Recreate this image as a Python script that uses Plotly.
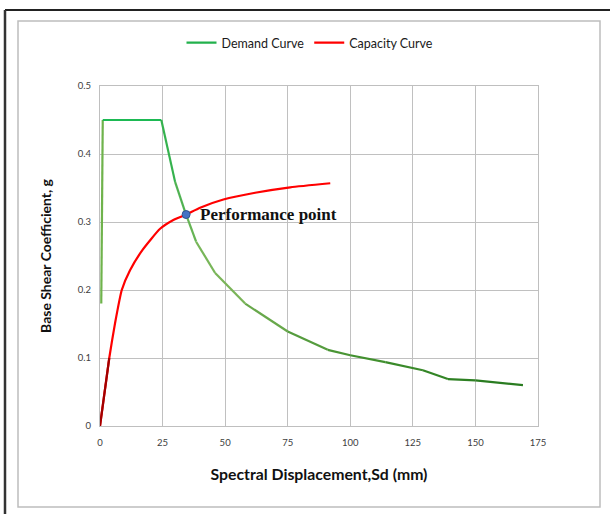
import plotly.graph_objects as go

# Demand curve (Spectral displacement mm, base shear coefficient g)
demand_sd = [0.5, 1.1, 24.5, 30, 34, 38.4, 46, 58, 75, 91, 100, 114, 129, 139, 150, 169]
demand_sa = [0.18, 0.45, 0.45, 0.359, 0.315, 0.271, 0.225, 0.18, 0.139, 0.112, 0.104, 0.094, 0.082, 0.069, 0.067, 0.060]

# Capacity curve
capacity_sd = [0, 3.7, 6, 8.7, 12, 17, 24, 29.3, 34.4, 40, 49.3, 62, 76, 92]
capacity_sa = [0, 0.10, 0.151, 0.20, 0.229, 0.259, 0.290, 0.303, 0.311, 0.321, 0.333, 0.343, 0.351, 0.357]

# Performance point
perf_sd = [34.4]
perf_sa = [0.311]
perf_label = "Performance point"

x_ticks = [0, 25, 50, 75, 100, 125, 150, 175]
y_ticks = [0, 0.1, 0.2, 0.3, 0.4, 0.5]
y_tick_text = ["0", "0.1", "0.2", "0.3", "0.4", "0.5"]

# segment colours (style only)
demand_colors = ["#6FB34C", "#1DB954", "#35B24E", "#50B252", "#66B455", "#78B659",
                 "#7AB458", "#68A84B", "#559C3E", "#4A9535", "#42902F", "#3A8A2A",
                 "#338526", "#2E8023", "#2A7C21"]

fig = go.Figure()

for i in range(len(demand_sd) - 1):
    fig.add_trace(go.Scatter(
        x=demand_sd[i:i + 2], y=demand_sa[i:i + 2], mode="lines",
        line=dict(color=demand_colors[i], width=2.2),
        name="Demand Curve", legendgroup="d",
        showlegend=False, hoverinfo="skip"))

fig.add_trace(go.Scatter(
    x=capacity_sd, y=capacity_sa, mode="lines",
    line=dict(color="#FF0000", width=2.2, shape="spline", smoothing=0.5),
    name="Capacity Curve", legendgroup="c", showlegend=False))
# darker foot of the capacity curve
fig.add_trace(go.Scatter(
    x=capacity_sd[:2], y=capacity_sa[:2], mode="lines",
    line=dict(color="#A00000", width=2.2),
    name="Capacity Curve", legendgroup="c", showlegend=False, hoverinfo="skip"))

# legend entries
fig.add_trace(go.Scatter(x=[None], y=[None], mode="lines",
                         line=dict(color="#22B14C", width=2.2), name="Demand Curve",
                         legendgroup="d"))
fig.add_trace(go.Scatter(x=[None], y=[None], mode="lines",
                         line=dict(color="#FF0000", width=2.2), name="Capacity Curve",
                         legendgroup="c"))

fig.add_trace(go.Scatter(x=perf_sd, y=perf_sa, mode="markers",
                         marker=dict(color="#4472C4", size=8,
                                     line=dict(color="#2F528F", width=1)),
                         showlegend=False))

fig.add_annotation(x=perf_sd[0], y=perf_sa[0], text="<b>" + perf_label + "</b>",
                   showarrow=False, xanchor="left", yanchor="middle", xshift=12, yshift=0,
                   font=dict(family="Liberation Serif", size=17, color="#111111"))

L, R, T, B = 100, 72, 86, 88
W, H = 610, 514
pw, ph = W - L - R, H - T - B


def px(xp):
    return (xp - L) / pw


def py(yp):
    return (H - B - yp) / ph


shapes = [
    # outer black frame (top and left)
    dict(type="line", xref="paper", yref="paper", x0=px(5), x1=px(612), y0=py(10), y1=py(10),
         line=dict(color="#222222", width=2)),
    dict(type="line", xref="paper", yref="paper", x0=px(5), x1=px(5), y0=py(10), y1=py(520),
         line=dict(color="#333333", width=2.5)),
    # inner grey frame
    dict(type="rect", xref="paper", yref="paper", x0=px(18), x1=px(600), y0=py(21), y1=py(507),
         line=dict(color="#BDBDBD", width=1.5)),
]

fig.update_layout(
    width=W, height=H,
    margin=dict(l=L, r=R, t=T, b=B),
    paper_bgcolor="white", plot_bgcolor="white",
    font=dict(family="Lato", color="#404040"),
    showlegend=True,
    legend=dict(orientation="h", x=px(310), xanchor="center", y=py(43), yanchor="middle",
                font=dict(family="Lato", size=12.5, color="#1a1a1a"),
                itemwidth=30, tracegroupgap=0, bgcolor="rgba(0,0,0,0)"),
    shapes=shapes,
    xaxis=dict(range=[0, 175], tickvals=x_ticks, ticktext=[str(v) for v in x_ticks],
               showgrid=True, gridcolor="#C0C0C0", gridwidth=1.4,
               showline=True, linecolor="#BFBFBF", linewidth=1.4, mirror=True,
               zeroline=False, ticks="", ticklabelstandoff=7,
               tickfont=dict(family="Lato", size=9.5, color="#404040"),
               title=dict(text="<b>Spectral Displacement,Sd (mm)</b>", standoff=22,
                          font=dict(family="Lato", size=15.8, color="#111111"))),
    yaxis=dict(range=[0, 0.5], tickvals=y_ticks, ticktext=y_tick_text,
               showgrid=True, gridcolor="#C0C0C0", gridwidth=1.4,
               showline=True, linecolor="#BFBFBF", linewidth=1.4, mirror=True,
               zeroline=False, ticks="", ticklabelstandoff=6,
               tickfont=dict(family="Lato", size=9.5, color="#404040"),
               title=dict(text="<b>Base Shear Coefficient, g</b>", standoff=22,
                          font=dict(family="Lato", size=14, color="#111111"))),
)

fig.write_html("out.html", config={"displayModeBar": False},
               post_script="document.body.style.margin='0';")
